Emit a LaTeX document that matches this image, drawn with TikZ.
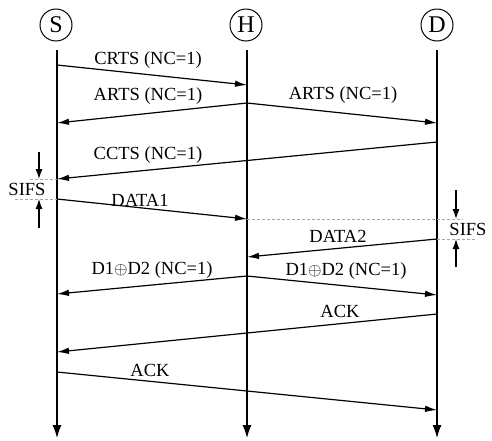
\documentclass[tikz,border=0pt]{standalone}
\usepackage{fontspec}
\setmainfont{Liberation Serif}
\usetikzlibrary{arrows.meta}
\begin{document}
\begin{tikzpicture}[x=1pt,y=-1pt,
  station/.style={draw,circle,minimum size=32pt,inner sep=0pt,line width=1pt,
    font=\fontsize{24}{24}\selectfont},
  life/.style={line width=1.2pt,-{Latex[length=13pt,width=9pt]}},
  msg/.style={line width=1.2pt,-{Latex[length=12pt,width=6.5pt]}},
  lbl/.style={font=\fontsize{18.5}{18.5}\selectfont,inner sep=0pt},
  gap/.style={gray!70,line width=0.6pt,dash pattern=on 3pt off 2pt},
  tick/.style={line width=1.2pt,-{Latex[length=10pt,width=7pt]}},
]
\useasboundingbox (0,0) rectangle (492,440);

% stations
\node[station] (S) at (56,25) {S};
\node[station] (H) at (246,25) {H};
\node[station] (D) at (437,25) {D};

% time lines
\coordinate (Stop) at (57,50);  \coordinate (Sbot) at (57,438);
\coordinate (Htop) at (247,50); \coordinate (Hbot) at (247,438);
\coordinate (Dtop) at (437,50); \coordinate (Dbot) at (437,438);
\draw[life] (Stop) -- (Sbot);
\draw[life] (Htop) -- (Hbot);
\draw[life] (Dtop) -- (Dbot);

% points on the time lines
\coordinate (s1) at (57,65);  \coordinate (h1) at (247,85);
\coordinate (h2) at (247,103);\coordinate (s2) at (57,123); \coordinate (d1) at (437,123);
\coordinate (d2) at (437,142);\coordinate (s3) at (57,179);
\coordinate (s4) at (57,199); \coordinate (h3) at (247,219);
\coordinate (d3) at (437,239);\coordinate (h4) at (247,257);
\coordinate (h5) at (247,276);\coordinate (s5) at (57,294); \coordinate (d4) at (437,295);
\coordinate (d5) at (437,314);\coordinate (s6) at (57,352);
\coordinate (s7) at (57,372); \coordinate (d6) at (437,410);

% messages
\draw[msg] (s1) -- (h1);
\node[lbl] (lcrts) at (148,60) {CRTS (NC=1)};
\draw[msg] (h2) -- (s2);
\node[lbl] (larts1) at (148,96) {ARTS (NC=1)};
\draw[msg] (h2) -- (d1);
\node[lbl] (larts2) at (343,95) {ARTS (NC=1)};
\draw[msg] (d2) -- (s3);
\node[lbl] (lccts) at (148,155) {CCTS (NC=1)};
\draw[msg] (s4) -- (h3);
\node[lbl] (ldata1) at (140,200) {DATA1};
\draw[msg] (d3) -- (h4);
\node[lbl] (ldata2) at (338,236) {DATA2};
\draw[msg] (h5) -- (s5);
\node[lbl] (lx1) at (152,270) {D1$\oplus$D2 (NC=1)};
\draw[msg] (h5) -- (d4);
\node[lbl] (lx2) at (346,271) {D1$\oplus$D2 (NC=1)};
\draw[msg] (d5) -- (s6);
\node[lbl] (lack1) at (340,311) {ACK};
\draw[msg] (s7) -- (d6);
\node[lbl] (lack2) at (150,370) {ACK};

% SIFS at S
\coordinate (ga) at (30,179);  \draw[gap] (ga) -- (s3);
\coordinate (gb) at (15,199);  \draw[gap] (gb) -- (s4);
\coordinate (ta0) at (39,152); \coordinate (ta1) at (39,179);
\coordinate (tb0) at (39,228); \coordinate (tb1) at (39,199);
\draw[tick] (ta0) -- (ta1);
\draw[tick] (tb0) -- (tb1);
\node[lbl] (sifs1) at (27,189) {SIFS};

% SIFS at D
\coordinate (gc) at (463,219); \draw[gap] (h3) -- (gc);
\coordinate (gd) at (475,239); \draw[gap] (d3) -- (gd);
\coordinate (tc0) at (456,190); \coordinate (tc1) at (456,219);
\coordinate (td0) at (456,267); \coordinate (td1) at (456,239);
\draw[tick] (tc0) -- (tc1);
\draw[tick] (td0) -- (td1);
\node[lbl] (sifs2) at (468,229) {SIFS};
\end{tikzpicture}
\end{document}
